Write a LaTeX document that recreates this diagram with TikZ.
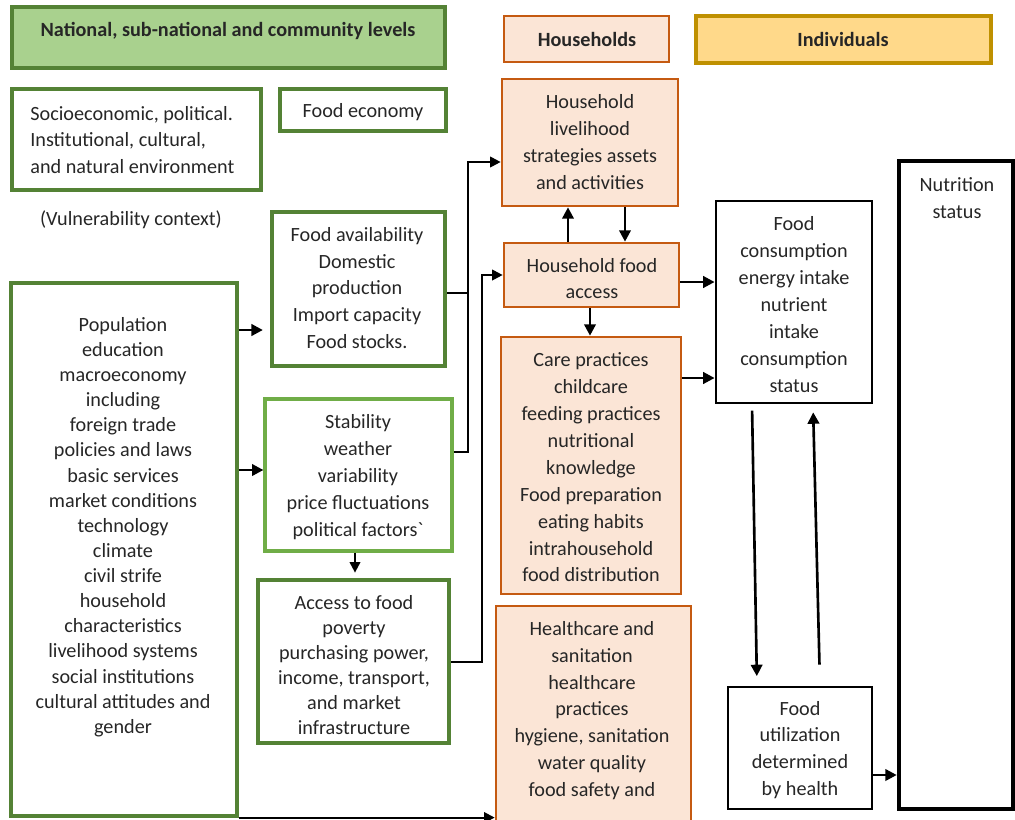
\documentclass[tikz,border=0pt]{standalone}
\usepackage{fontspec}
\setmainfont{Carlito}
\usetikzlibrary{arrows.meta,fit}
\definecolor{dgreen}{HTML}{548235}
\definecolor{lgreen}{HTML}{70AD47}
\definecolor{hdrgreen}{HTML}{A9D18E}
\definecolor{orng}{HTML}{C55A11}
\definecolor{peach}{HTML}{FBE5D6}
\definecolor{gold}{HTML}{BF9000}
\definecolor{goldfill}{HTML}{FFD98A}
\definecolor{txtc}{HTML}{262626}
\begin{document}
\begin{tikzpicture}[x=0.02cm,y=-0.02cm,
  frame/.style={rectangle, inner sep=0pt},
  gbox/.style={frame, draw=dgreen, line width=2.4pt},
  lgbox/.style={frame, draw=lgreen, line width=1.8pt},
  obox/.style={frame, draw=orng, fill=peach, line width=1.5pt},
  kbox/.style={frame, draw=black, line width=1.6pt},
  txt/.style={align=center, text=txtc, inner sep=0pt, font=\fontsize{11.5}{15.3}\selectfont},
  txtn/.style={txt, font=\fontsize{11.5}{14.3}\selectfont},
  hdr/.style={txt, font=\fontsize{11.5}{14}\selectfont\bfseries},
  arr/.style={-{Triangle[length=6.5pt,width=6.5pt]}, line width=1.5pt},
  link/.style={line width=1.1pt},
  larr/.style={link, -{Triangle[length=6pt,width=6pt]}},
]
\useasboundingbox (0,0) rectangle (1015,819);

% Header boxes
\node[gbox, fill=hdrgreen, fit={(12,7) (445,68)}] (nat) {};
\node[hdr] (natt) at (228,31) {National, sub-national and community levels};
\node[obox, fit={(504,16) (669,62)}] (hh) {};
\node[hdr] (hht) at (587,39) {Households};
\node[frame, draw=gold, fill=goldfill, line width=2.4pt, fit={(696,16) (991,63)}] (ind) {};
\node[hdr] (indt) at (843,39) {Individuals};

% Green column
\node[gbox, fit={(12,89) (261,190)}] (socio) {};
\node[txt, align=left, anchor=west] (sociot) at (30,140) {Socioeconomic, political.\\Institutional, cultural,\\and natural environment};
\node[gbox, fit={(280,89) (446,131)}] (econ) {};
\node[txt] (econt) at (363,112) {Food economy};
\node[txt] (vuln) at (131,220) {(Vulnerability context)};

\node[gbox, fit={(272,212) (445,366)}] (avail) {};
\node[txt] (availt) at (357,288) {Food availability\\Domestic\\production\\Import capacity\\Food stocks.};

\node[frame, draw=dgreen, line width=1.8pt, fit={(11,283) (237,816)}] (pop) {};
\node[txtn] (popt) at (123,527) {Population\\education\\macroeconomy\\including\\foreign trade\\policies and laws\\basic services\\market conditions\\technology\\climate\\civil strife\\household\\characteristics\\livelihood systems\\social institutions\\cultural attitudes and\\gender};

\node[lgbox, fit={(265,399) (452,551)}] (stab) {};
\node[txt] (stabt) at (358,477) {Stability\\weather\\variability\\price fluctuations\\political factors\textasciigrave};

\node[gbox, fit={(258,580) (449,743)}] (acc) {};
\node[txtn] (acct) at (354,665) {Access to food\\poverty\\purchasing power,\\income, transport,\\and market\\infrastructure};

% Household column
\node[obox, fit={(502,79) (678,206)}] (liv) {};
\node[txt] (livt) at (590,142) {Household\\livelihood\\strategies assets\\and activities};
\node[obox, fit={(504,243) (679,307)}] (hfa) {};
\node[txt] (hfat) at (592,278.5) {Household food\\access};
\node[obox, fit={(501,337) (681,594)}] (care) {};
\node[txt] (caret) at (591,467.5) {Care practices\\childcare\\feeding practices\\nutritional\\knowledge\\Food preparation\\eating habits\\intrahousehold\\food distribution};
\node[obox, fit={(496,606) (691,830)}] (health) {};
\node[txt] (healtht) at (592,710.5) {Healthcare and\\sanitation\\healthcare\\practices\\hygiene, sanitation\\water quality\\food safety and};

% Individual column
\node[kbox, fit={(716,201) (872,403)}] (cons) {};
\node[txt] (const) at (794,304.5) {Food\\consumption\\energy intake\\nutrient\\intake\\consumption\\status};
\node[kbox, line width=1.4pt, fit={(728,687) (872,809)}] (util) {};
\node[txt] (utilt) at (800,750) {Food\\utilization\\determined\\by health};
\node[kbox, line width=2.6pt, fit={(899,161) (1013,809)}] (nut) {};
\node[txt] (nutt) at (957,198.5) {Nutrition\\status};

% Connectors
\draw[arr, shorten >=4pt] (pop.east |- 0,330) -- (avail.west |- 0,330);
\draw[arr] (pop.east |- 0,470) -- (stab.west |- 0,470);
\draw[larr, shorten >=3pt] (stab.south -| 355,0) -- (acc.north -| 355,0);
\draw[larr] (avail.east |- 0,293) -- (468,293) -- (468,162) -- (liv.west |- 0,162);
\draw[link] (stab.east |- 0,452) -- (468,452) -- (468,293);
\draw[larr] (acc.east |- 0,662) -- (482,662) -- (482,275) -- (hfa.west |- 0,275);
\draw[arr] (hfa.north -| 568,0) -- (liv.south -| 568,0);
\draw[arr] (liv.south -| 625,0) -- (hfa.north -| 625,0);
\draw[arr] (hfa.south -| 590,0) -- (care.north -| 590,0);
\draw[arr] (hfa.east |- 0,282) -- (cons.west |- 0,282);
\draw[arr] (care.east |- 0,378) -- (cons.west |- 0,378);
\draw[arr, shorten <=3.5pt, shorten >=5.5pt] (cons.south -| 752,0) -- (util.north -| 757,0);
\draw[arr, shorten <=12pt, shorten >=4.5pt] (util.north -| 820,0) -- (cons.south -| 813,0);
\draw[arr] (util.east |- 0,775) -- (nut.west |- 0,775);
\draw[larr] (pop.south east) -- (health.west |- pop.south east);
\end{tikzpicture}
\end{document}
